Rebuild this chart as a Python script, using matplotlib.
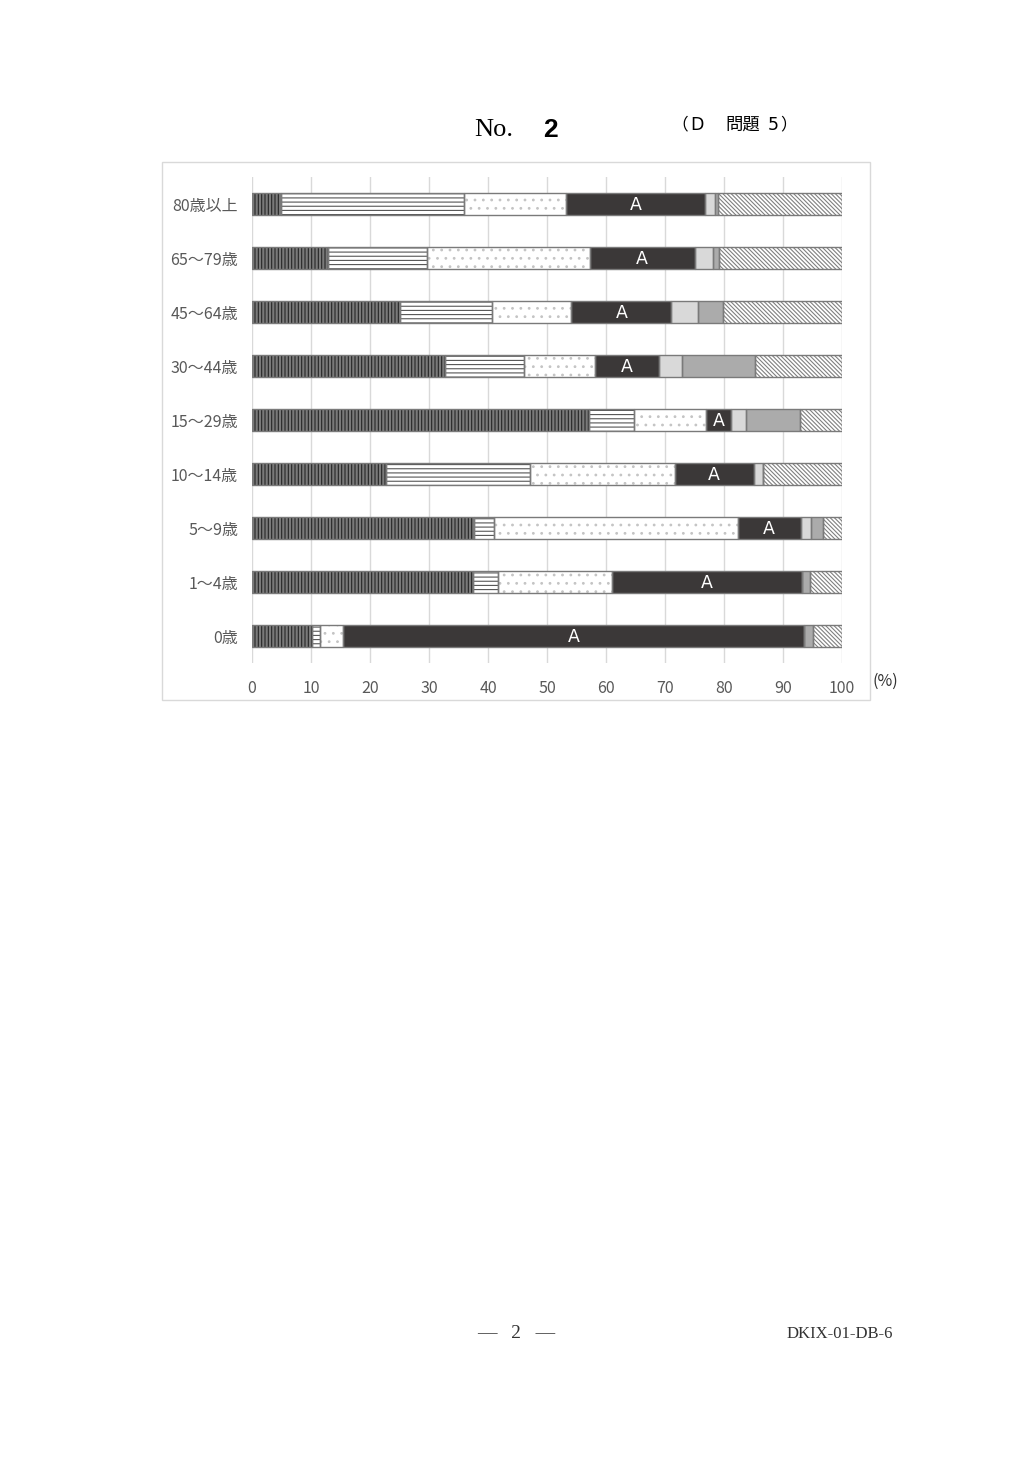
import matplotlib
matplotlib.use("Agg")
import matplotlib.pyplot as plt
import numpy as np
from matplotlib.patches import Rectangle

plt.rcParams['font.family'] = ['Noto Sans CJK JP', 'DejaVu Sans']
plt.rcParams['hatch.linewidth'] = 0.8

# age groups, bottom to top
ages = ['0歳', '1〜4歳', '5〜9歳', '10〜14歳', '15〜29歳',
        '30〜44歳', '45〜64歳', '65〜79歳', '80歳以上']

# share of each category (%), same order as ages
s1 = [10.1, 37.5, 37.6, 22.7, 57.1, 32.7, 25.0, 12.8, 4.9]
s2 = [1.5, 4.2, 3.5, 24.5, 7.6, 13.4, 15.7, 16.8, 31.0]
s3 = [3.8, 19.4, 41.2, 24.5, 12.2, 12.1, 13.4, 27.7, 17.3]
sA = [78.2, 32.1, 10.7, 13.3, 4.3, 10.7, 17.0, 17.7, 23.6]
s5 = [0.0, 0.0, 1.7, 1.6, 2.6, 3.9, 4.5, 3.2, 1.7]
s6 = [1.4, 1.3, 2.0, 0.0, 9.0, 12.5, 4.2, 1.0, 0.5]
s7 = [5.0, 5.5, 3.3, 13.4, 7.2, 14.7, 20.2, 20.8, 21.0]

series = [s1, s2, s3, sA, s5, s6, s7]
faces = ['#7a7a7a', 'white', 'white', '#3b3838', '#d9d9d9', '#ababab', 'white']
hatch_cols = ['#262626', '#555555', '#c4c4c4', '#3b3838', '#d9d9d9', '#ababab', '#808080']
hatches = ['|||||', '----', '..', None, None, None, '\\' * 8]

fig = plt.figure(figsize=(10.32, 14.58), dpi=100)
W, H = 1032, 1458
ax = fig.add_axes([252 / W, 1 - 663 / H, 590 / W, 486 / H])

# chart frame
fig.patches.append(Rectangle((162 / W, 1 - 700 / H), 708 / W, 538 / H,
                             transform=fig.transFigure, fill=False,
                             edgecolor='#d9d9d9', linewidth=1))

y = np.arange(len(ages))
h = 0.41
left = np.zeros(len(ages))
for vals, fc, hc, ht in zip(series, faces, hatch_cols, hatches):
    vals = np.array(vals)
    ax.barh(y, vals, left=left, height=h, color=fc, edgecolor=hc,
            hatch=ht, linewidth=0, zorder=2)
    ax.barh(y, vals, left=left, height=h, fill=False,
            edgecolor='#7a7a7a', linewidth=1.0, zorder=3)
    left = left + vals

# "A" labels
startA = np.array(s1) + np.array(s2) + np.array(s3)
for yi, st, w in zip(y, startA, sA):
    ax.text(st + w / 2, yi - 0.02, 'A', color='white', fontsize=12.5,
            ha='center', va='center', zorder=4, family='DejaVu Sans')

ax.set_xlim(0, 100)
ax.set_ylim(-0.5, len(ages) - 0.5)
ax.set_xticks(range(0, 101, 10))
ax.set_yticks(y)
ax.set_yticklabels(ages)
ax.tick_params(length=0, labelsize=11.5, colors='#595959', pad=10)
ax.tick_params(axis='x', pad=12)
ax.grid(axis='x', color='#d9d9d9', linewidth=1, zorder=0)
ax.set_axisbelow(True)
for sp in ax.spines.values():
    sp.set_visible(False)

fig.text(885 / W, 1 - 681 / H, '(%)', fontsize=11.5, color='#333333',
         ha='center', va='center')

# page header
fig.text(474 / W, 1 - 130 / H, 'No.', fontsize=19, family='Liberation Serif',
         ha='left', va='center')
fig.text(550 / W, 1 - 130 / H, '2', fontsize=19, weight='bold',
         family='Liberation Sans', ha='center', va='center')
fig.text(688 / W, 1 - 125 / H, '（', fontsize=12, ha='right', va='center')
fig.text(697 / W, 1 - 125 / H, 'D', fontsize=12.5, family='DejaVu Sans',
         ha='center', va='center')
fig.text(725 / W, 1 - 125 / H, '問題', fontsize=12.5, ha='left', va='center')
fig.text(773 / W, 1 - 125 / H, '5', fontsize=12.5, family='DejaVu Sans',
         ha='center', va='center')
fig.text(780 / W, 1 - 125 / H, '）', fontsize=12, ha='left', va='center')

# footer
fig.text(516 / W, 1 - 1334 / H, '—   2   —', fontsize=14,
         family='Liberation Serif', ha='center', va='center', color='#333333')
fig.text(893 / W, 1 - 1334 / H, 'DKIX-01-DB-6', fontsize=12,
         family='Liberation Serif', ha='right', va='center', color='#333333')

fig.savefig('out.png', dpi=100, facecolor='white')
